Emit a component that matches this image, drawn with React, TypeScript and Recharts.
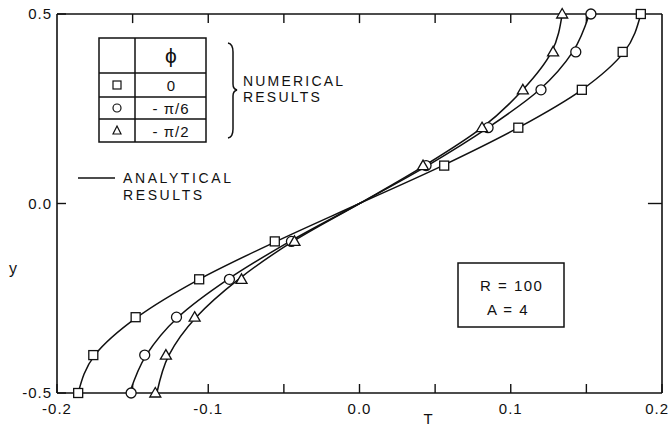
import { ComposedChart, Line, Scatter, XAxis, YAxis, ReferenceLine } from 'recharts';

// y levels where the numerical results were computed
const yLevels = [-0.5, -0.4, -0.3, -0.2, -0.1, 0.1, 0.2, 0.3, 0.4, 0.5];
const squareT = [-0.186, -0.176, -0.148, -0.106, -0.056, 0.056, 0.105, 0.147, 0.174, 0.186];
const circleT = [-0.151, -0.142, -0.121, -0.086, -0.045, 0.044, 0.085, 0.12, 0.143, 0.153];
const triangleT = [-0.135, -0.128, -0.109, -0.078, -0.043, 0.042, 0.081, 0.108, 0.128, 0.134];

// analytical curves
const curveY = [-0.5, -0.4, -0.3, -0.2, -0.1, 0, 0.1, 0.2, 0.3, 0.4, 0.5];
const squareCurve = [-0.186, -0.175, -0.147, -0.106, -0.055, 0, 0.055, 0.105, 0.147, 0.175, 0.186];
const circleCurve = [-0.152, -0.141, -0.12, -0.087, -0.046, 0, 0.045, 0.085, 0.119, 0.141, 0.152];
const triangleCurve = [-0.134, -0.126, -0.108, -0.08, -0.044, 0, 0.043, 0.081, 0.108, 0.127, 0.134];

const xTicks = [-0.2, -0.15, -0.1, -0.05, 0, 0.05, 0.1, 0.15, 0.2];
const yTicks = [-0.5, 0, 0.5];

const toPoints = (ts: number[], ys: number[]) => ts.map((t, i) => ({ t, y: ys[i] }));

const FONT = '"Liberation Sans", Arial, sans-serif';
const INK = '#111';
const TICK_IN = 9;
// inward tick length on the top / right frame, in axis units (~9px and ~14px)
const TOP_TICK = 0.024;
const RIGHT_TICK = 0.0093;

const fmt = (v: number) => (Math.abs(v) < 1e-9 ? '0.0' : v.toFixed(1));
const isMajor = (v: number) => Math.abs(v * 10 - Math.round(v * 10)) < 1e-6;

// tick lines point inward (negative tickSize), so labels are pushed back out here
const BottomLabel = (props: any) => {
  const { x, y, payload } = props;
  const v = payload.value;
  if (!isMajor(v)) return <g />;
  const last = v > 0.19;
  return (
    <text x={last ? x + 7 : x} y={y + TICK_IN + 21} textAnchor={last ? 'end' : 'middle'} fontFamily={FONT} fontSize={15} letterSpacing={1} fill={INK}>
      {fmt(v)}
    </text>
  );
};

const LeftLabel = (props: any) => {
  const { x, y, payload } = props;
  return (
    <text x={x - TICK_IN - 5} y={y + 5} textAnchor="end" fontFamily={FONT} fontSize={15} letterSpacing={1} fill={INK}>
      {fmt(payload.value)}
    </text>
  );
};

const SquareMark = ({ cx, cy }: any) => (
  <rect x={cx - 4.5} y={cy - 4.5} width={9} height={9} fill="#fff" stroke={INK} strokeWidth={1.3} />
);
const CircleMark = ({ cx, cy }: any) => (
  <circle cx={cx} cy={cy} r={5} fill="#fff" stroke={INK} strokeWidth={1.3} />
);
const TriangleMark = ({ cx, cy }: any) => (
  <path d={`M${cx},${cy - 5.5} L${cx + 5.5},${cy + 4} L${cx - 5.5},${cy + 4} Z`} fill="#fff" stroke={INK} strokeWidth={1.3} />
);

const txt = { fontFamily: FONT, fill: INK } as const;

function Annotations() {
  return (
    <svg width={669} height={438} style={{ position: 'absolute', left: 0, top: 0, pointerEvents: 'none' }}>
      {/* legend table */}
      <g stroke={INK} strokeWidth={1.5} fill="none">
        <rect x={99} y={38} width={107} height={104} />
        <line x1={135} y1={38} x2={135} y2={142} />
        <line x1={99} y1={73} x2={206} y2={73} />
        <line x1={99} y1={97} x2={206} y2={97} />
        <line x1={99} y1={119} x2={206} y2={119} />
      </g>
      <text x={171} y={63} textAnchor="middle" fontSize={21} {...txt}>ϕ</text>
      <rect x={113} y={81} width={8} height={8} fill="#fff" stroke={INK} strokeWidth={1.2} />
      <circle cx={117} cy={108} r={4} fill="#fff" stroke={INK} strokeWidth={1.2} />
      <path d="M117,126 L121,134 L113,134 Z" fill="#fff" stroke={INK} strokeWidth={1.2} />
      <text x={171} y={91} textAnchor="middle" fontSize={15} {...txt}>0</text>
      <text x={171} y={114} textAnchor="middle" fontSize={15} letterSpacing={1} {...txt}>- π/6</text>
      <text x={171} y={137} textAnchor="middle" fontSize={15} letterSpacing={1} {...txt}>- π/2</text>
      {/* brace */}
      <path d="M228,43 Q233,44 233,52 L233,84 Q233,89 237,90 Q233,91 233,96 L233,129 Q233,137 228,138" fill="none" stroke={INK} strokeWidth={1.5} />
      <text x={243} y={86} fontSize={14} letterSpacing={2.2} {...txt}>NUMERICAL</text>
      <text x={243} y={102} fontSize={14} letterSpacing={2.2} {...txt}>RESULTS</text>
      {/* analytical legend */}
      <line x1={78} y1={178} x2={115} y2={178} stroke={INK} strokeWidth={1.5} />
      <text x={123} y={183} fontSize={14} letterSpacing={2.6} {...txt}>ANALYTICAL</text>
      <text x={123} y={200} fontSize={14} letterSpacing={2.6} {...txt}>RESULTS</text>
      {/* parameter box */}
      <rect x={458} y={263} width={106} height={64} fill="#fff" stroke={INK} strokeWidth={1.5} />
      <text x={480} y={291} fontSize={15} letterSpacing={1.5} {...txt}>R  = 100</text>
      <text x={487} y={315} fontSize={15} letterSpacing={1.5} {...txt}>A = 4</text>
      {/* axis titles */}
      <text x={13} y={274} textAnchor="middle" fontSize={16} {...txt}>y</text>
      <text x={428} y={424} textAnchor="middle" fontSize={15} {...txt}>T</text>
    </svg>
  );
}

const axisStyle = { stroke: INK, strokeWidth: 1.6 };
const tickStyle = { stroke: INK, strokeWidth: 1.4 };

export default function App() {
  const curves = [squareCurve, circleCurve, triangleCurve];
  const series = [
    { ts: squareT, shape: SquareMark },
    { ts: circleT, shape: CircleMark },
    { ts: triangleT, shape: TriangleMark },
  ];
  const innerTicks = xTicks.slice(1, -1);
  return (
    <div style={{ position: 'absolute', left: 0, top: 0, width: 669, height: 438, background: '#fff' }}>
      <ComposedChart layout="vertical" width={669} height={438} margin={{ top: 13, right: 6, bottom: 44, left: 56 }}>
        <XAxis
          xAxisId="bottom"
          dataKey="t"
          type="number"
          domain={[-0.2, 0.2]}
          ticks={xTicks}
          interval={0}
          height={1}
          tickSize={-TICK_IN}
          tickMargin={0}
          tickLine={tickStyle}
          axisLine={axisStyle}
          tick={<BottomLabel />}
        />
        <XAxis xAxisId="top" orientation="top" type="number" domain={[-0.2, 0.2]} height={1} tick={false} tickLine={false} axisLine={axisStyle} />
        <YAxis
          yAxisId="left"
          dataKey="y"
          type="number"
          reversed
          domain={[-0.5, 0.5]}
          ticks={yTicks}
          interval={0}
          width={1}
          tickSize={-TICK_IN}
          tickMargin={0}
          tickLine={tickStyle}
          axisLine={axisStyle}
          tick={<LeftLabel />}
        />
        <YAxis yAxisId="right" orientation="right" type="number" reversed domain={[-0.5, 0.5]} width={1} tick={false} tickLine={false} axisLine={axisStyle} />
        {/* inward ticks on the top and right sides of the frame */}
        {innerTicks.map((v) => (
          <ReferenceLine
            key={'tt' + v}
            xAxisId="bottom"
            yAxisId="left"
            segment={[{ x: v, y: 0.5 }, { x: v, y: 0.5 - TOP_TICK }]}
            stroke={INK}
            strokeWidth={1.4}
          />
        ))}
        <ReferenceLine
          xAxisId="bottom"
          yAxisId="left"
          segment={[{ x: 0.2, y: 0 }, { x: 0.2 - RIGHT_TICK, y: 0 }]}
          stroke={INK}
          strokeWidth={1.4}
        />
        {curves.map((c, i) => (
          <Line key={'c' + i} xAxisId="bottom" yAxisId="left" data={toPoints(c, curveY)} dataKey="t" type="monotone" stroke={INK} strokeWidth={1.5} dot={false} isAnimationActive={false} />
        ))}
        {series.map((s, i) => (
          <Scatter key={'s' + i} xAxisId="bottom" yAxisId="left" data={toPoints(s.ts, yLevels)} dataKey="t" shape={s.shape} isAnimationActive={false} />
        ))}
      </ComposedChart>
      <Annotations />
    </div>
  );
}
